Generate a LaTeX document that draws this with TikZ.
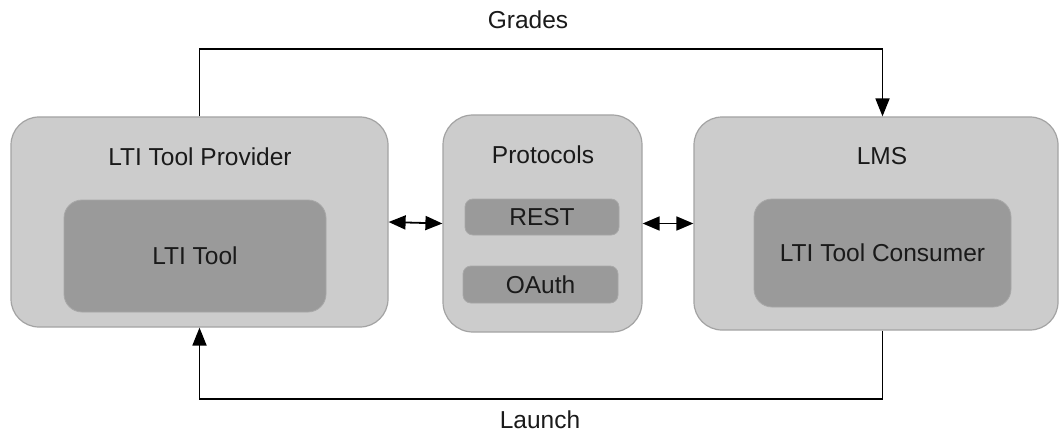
\documentclass[tikz,border=0pt]{standalone}
\usepackage{fontspec}
\setmainfont{Liberation Sans}
\usetikzlibrary{arrows.meta,calc}

\definecolor{outerfill}{HTML}{CCCCCC}
\definecolor{outerline}{HTML}{A3A3A3}
\definecolor{innerfill}{HTML}{9A9A9A}
\definecolor{innerline}{HTML}{A8A8A8}
\definecolor{txt}{HTML}{1A1A1A}

\tikzset{
  outerbox/.style={draw=outerline, line width=1.2pt, fill=outerfill, rounded corners=28pt, inner sep=0pt},
  innerbox/.style={draw=innerline, line width=0.8pt, fill=innerfill, rounded corners=18pt, inner sep=0pt},
  protobox/.style={draw=innerline, line width=0.8pt, fill=innerfill, rounded corners=8pt, inner sep=0pt},
  lbl/.style={text=txt, font=\fontsize{24.5}{28}\selectfont, inner sep=0pt},
  flow/.style={line width=1.8pt, -{Triangle[length=18pt,width=14pt]}},
  both/.style={line width=1.8pt, {Triangle[length=17pt,width=14pt]}-{Triangle[length=17pt,width=14pt]}}
}

\begin{document}
\begin{tikzpicture}[x=1pt, y=-1pt]
  \useasboundingbox (0,0) rectangle (1060,441);

  % tool provider
  \node[outerbox, minimum width=377pt, minimum height=210pt] (prov) at (199.5,222) {};
  \node[lbl] (provlbl) at (200,157) {LTI Tool Provider};
  \node[innerbox, minimum width=262pt, minimum height=112pt] (tool) at (195,256) {};
  \node[lbl] (toollbl) at (tool.center) {LTI Tool};

  % protocols
  \node[outerbox, rounded corners=30pt, minimum width=199pt, minimum height=217pt] (proto) at (542.5,223.5) {};
  \node[lbl] (protolbl) at (543,155) {Protocols};
  \node[protobox, minimum width=154pt, minimum height=36pt] (rest) at (542,217) {};
  \node[lbl] (restlbl) at (rest.center) {REST};
  \node[protobox, minimum width=155pt, minimum height=37pt] (oauth) at (540.5,284.5) {};
  \node[lbl] (oauthlbl) at (oauth.center) {OAuth};

  % learning management system
  \node[outerbox, minimum width=364pt, minimum height=213pt] (lms) at (876,223.5) {};
  \node[lbl] (lmslbl) at (882,156) {LMS};
  \node[innerbox, minimum width=257pt, minimum height=108pt] (cons) at (882.5,253) {};
  \node[lbl] (conslbl) at (cons.center) {LTI Tool Consumer};

  % grades and launch loops
  \coordinate (gy) at (0,49);
  \coordinate (ly) at (0,399);
  \node[lbl] (grades) at (528,20) {Grades};
  \node[lbl] (launch) at (540,420) {Launch};

  \draw[flow] (prov.north) -- (prov.north |- gy) -| (cons.center |- lms.north);
  \draw[flow] (cons.center |- lms.south) -- (cons.center |- ly) -| (prov.south);

  % exchanges through the protocols
  \draw[both] (prov.east) -- (proto.west);
  \draw[both] (proto.east) -- (lms.west |- proto.east);
\end{tikzpicture}
\end{document}
